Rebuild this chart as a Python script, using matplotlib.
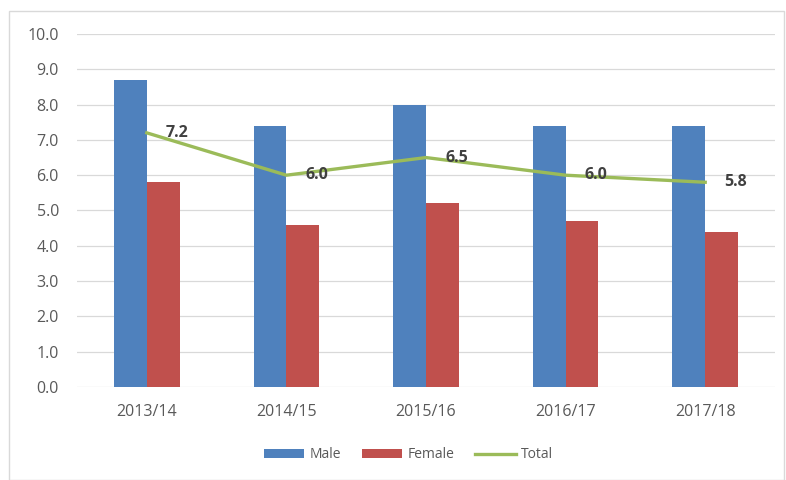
import matplotlib
matplotlib.use('Agg')
import matplotlib.pyplot as plt
from matplotlib.patches import Rectangle
import numpy as np

plt.rcParams.update({'font.family': ['Open Sans', 'DejaVu Sans'], 'font.size': 10})

years = ['2013/14', '2014/15', '2015/16', '2016/17', '2017/18']
male = [8.7, 7.4, 8.0, 7.4, 7.4]
female = [5.8, 4.6, 5.2, 4.7, 4.4]
total = [7.2, 6.0, 6.5, 6.0, 5.8]

fig = plt.figure(figsize=(7.86, 4.8), dpi=100)
ax = fig.add_axes([0.098, 0.194, 0.888, 0.735])

# thin frame round the whole chart
fig.patches.append(Rectangle((0.012, 0.0), 0.986, 0.978, transform=fig.transFigure,
                             fill=False, edgecolor='#d9d9d9', linewidth=1.0))

x = np.arange(len(years))
w = 0.235
b1 = ax.bar(x - w / 2, male, w, color='#4f81bd', label='Male', zorder=2)
b2 = ax.bar(x + w / 2, female, w, color='#c0504d', label='Female', zorder=2)
ln, = ax.plot(x, total, color='#9bbb59', linewidth=2.4, label='Total', zorder=3)

for xi, v in zip(x, total):
    ax.annotate(f'{v:.1f}', (xi, v), xytext=(22, 0), textcoords='offset points',
                ha='center', va='center', fontsize=11.5, fontweight='bold',
                color='#404040', zorder=4)

ax.set_xlim(-0.5, 4.5)
ax.set_ylim(0, 10)
ax.set_yticks(np.arange(0, 10.1, 1.0))
ax.set_yticklabels([f'{t:.1f}' for t in np.arange(0, 10.1, 1.0)])
ax.set_xticks(x)
ax.set_xticklabels(years)
ax.tick_params(length=0, colors='#595959', labelsize=11.5)
ax.tick_params(axis='y', pad=13)
ax.tick_params(axis='x', pad=12)
ax.grid(axis='y', color='#d9d9d9', linewidth=0.9, zorder=0)
for s in ax.spines.values():
    s.set_visible(False)

ax.legend([b1, b2, ln], ['Male', 'Female', 'Total'], loc='center',
          bbox_to_anchor=(0.475, -0.193), ncol=3, frameon=False,
          fontsize=10, handlelength=2.9, handleheight=0.7, columnspacing=1.5,
          handletextpad=0.4, labelcolor='#595959')

plt.savefig('out.png', dpi=100)
